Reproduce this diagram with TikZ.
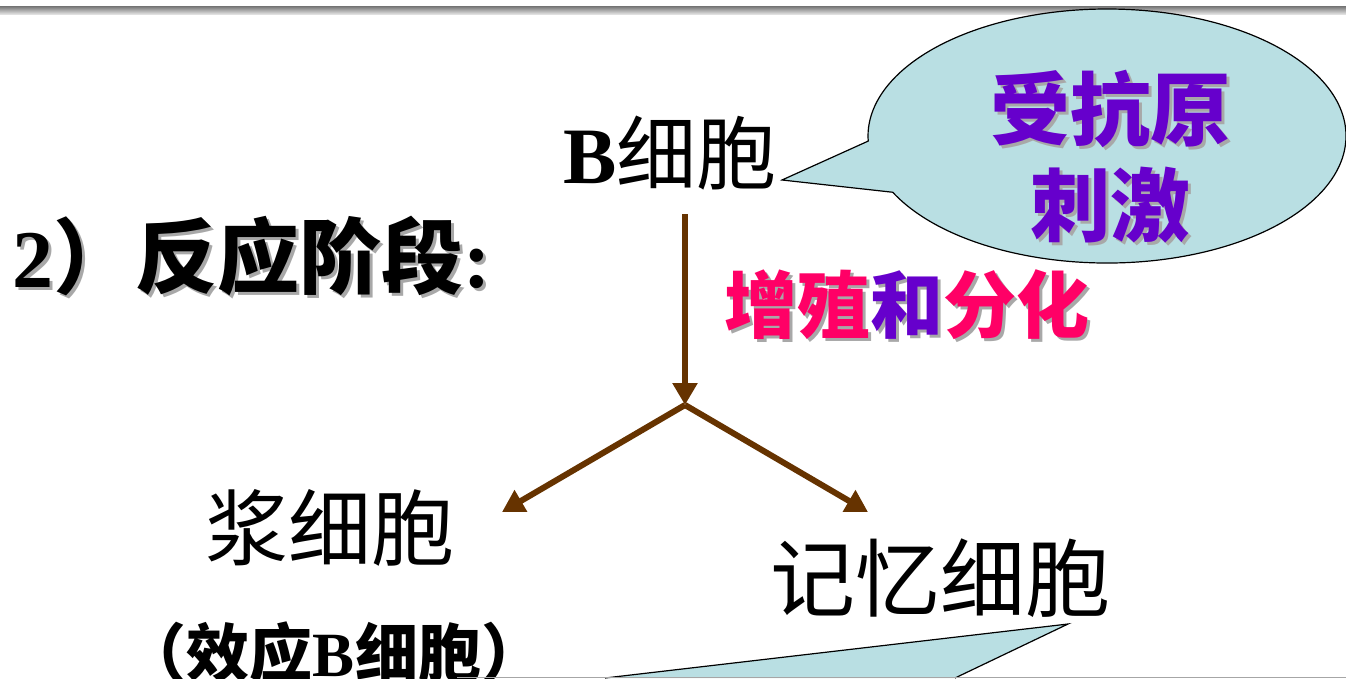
\documentclass[tikz,border=0pt]{standalone}
\usepackage{fontspec}
\setmainfont{Liberation Serif}
\newfontfamily\cjk{Noto Sans CJK SC}
\usetikzlibrary{arrows.meta,shapes.callouts}

\definecolor{arrowbrown}{HTML}{663300}
\definecolor{bubbleblue}{HTML}{B9DFE3}
\definecolor{stimviolet}{HTML}{6600CC}
\definecolor{growpink}{HTML}{FF0066}
\definecolor{shadowgray}{HTML}{A8A8A8}

% text with a soft drop shadow
\newcommand{\shd}[2]{\makebox[0pt][l]{\hspace{3pt}\raisebox{-3pt}{\color{shadowgray}#2}}\textcolor{#1}{#2}}

\begin{document}
\begin{tikzpicture}[x=1pt,y=-1pt,
    txt/.style={inner sep=0pt,font=\cjk\fontsize{#1}{#1}\selectfont},
    flow/.style={draw=arrowbrown,line width=6pt,-{Triangle[length=22pt,width=24pt]}},
    bubble/.style={ellipse callout,draw=black,line width=1.2pt,fill=bubbleblue}]
    \useasboundingbox (0,0) rectangle (1346,678);
    \shade[top color=black!55,bottom color=black!12] (0,6) rectangle (1346,14);

    \node[bubble,minimum width=478pt,minimum height=254pt,
          callout pointer arc=24,callout absolute pointer={(782,180)}] (stim) at (1107,136) {};
    \node[txt=80,align=center,font=\cjk\bfseries\fontsize{80}{96}\selectfont] (stimtext) at (1110,158)
        {\shd{stimviolet}{受抗原}\\\shd{stimviolet}{刺激}};

    \node[txt=82,anchor=west] (stage) at (12,258)
        {\shd{black}{{\rmfamily\bfseries 2}\bfseries）反应阶段{\rmfamily\bfseries :}}};
    \node[txt=80,anchor=west] (bcell) at (563,153) {{\rmfamily\bfseries B}细胞};
    \node[txt=73] (grow) at (907,306)
        {\bfseries\shd{growpink}{增殖}\shd{stimviolet}{和}\shd{growpink}{分化}};
    \node[txt=83] (plasma) at (330,528) {浆细胞};
    \node[txt=63] (effect) at (334,652) {\bfseries（效应{\rmfamily B}细胞）};
    \node[txt=85] (memory) at (940,578) {记忆细胞};

    \coordinate (split) at (685,405);
    \coordinate (pend) at (502,512);
    \coordinate (mend) at (868,512);
    \draw[flow,shorten <=24pt] (split |- bcell.south) -- (split);
    \draw[flow] (split) -- (pend);
    \draw[flow] (split) -- (mend);

    \coordinate (ctip) at (1068,624);
    \coordinate (cleft) at (605,678);
    \coordinate (cright) at (955,678);
    \fill[bubbleblue] (cleft) -- (ctip) -- (cright) -- cycle;
    \draw[line width=1.2pt] (cleft) -- (ctip) -- (cright);
    \draw[gray!70] (457,677) -- (1346,677);
\end{tikzpicture}
\end{document}
